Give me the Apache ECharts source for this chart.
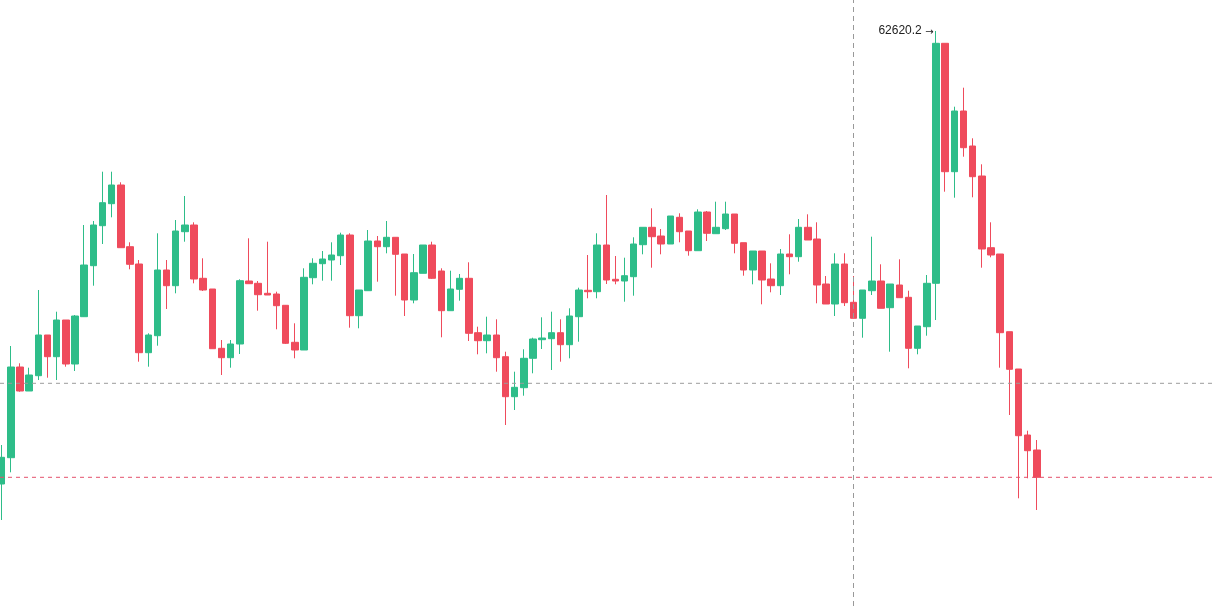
<!DOCTYPE html>
<html>
<head>
<meta charset="utf-8">
<style>html,body{margin:0;padding:0;background:#fff;}#c{width:1215px;height:606px;}</style>
<script src="https://cdn.jsdelivr.net/npm/echarts@6/dist/echarts.min.js"></script>
</head>
<body>
<div id="c"></div>
<script>
const open = [58090,58353,59260,59020,59173,59580,59363,59730,59290,59763,
60273,60673,60893,61080,60463,60290,59403,59573,60230,60073,
60613,60680,60147,60040,59447,59353,59490,60120,60097,59997,
59990,59877,59507,59430,60153,60293,60330,60373,60580,59773,
60023,60520,60463,60557,60390,59930,60197,60480,60220,59823,
60037,60147,59603,59523,59580,59363,58963,59053,59347,59533,
59543,59603,59483,59763,60027,60013,60480,60137,60120,60163,
60483,60657,60570,60490,60757,60620,60423,60810,60593,60643,
60790,60503,60230,60420,60140,60073,60390,60363,60657,60540,
60090,59890,60290,59907,59747,60023,60120,59853,60080,59957,
59447,59663,60097,62497,61213,61820,61470,61170,60453,60390,
59613,59240,58580,58430];
const close = [58357,59260,59020,59180,59580,59363,59730,59290,59770,60280,
60680,60903,61080,60453,60287,59403,59580,60230,60073,60620,
60680,60140,60030,59443,59353,59490,60123,60093,59983,59980,
59873,59497,59430,60157,60297,60340,60380,60580,59773,60030,
60520,60463,60557,60387,59930,60203,60480,60147,59823,60040,
60147,59597,59523,59580,59353,58963,59057,59347,59540,59550,
59603,59483,59770,60030,60013,60480,60130,60120,60173,60490,
60657,60563,60490,60770,60613,60423,60810,60597,60657,60790,
60497,60230,60420,60130,60073,60390,60363,60657,60530,60080,
59890,60290,59903,59747,60030,60120,59847,60090,59953,59447,
59670,60097,62497,61213,61820,61453,61163,60440,60380,59603,
59237,58573,58423,58157];
const low = [57730,58207,59013,59020,59130,59153,59130,59263,59220,59760,
60073,60490,60757,60453,60237,59313,59263,59473,59840,59997,
60513,60097,60020,59443,59180,59253,59390,60093,59823,59980,
59637,59490,59347,59430,60087,60123,60123,60280,59653,59647,
60023,60113,60397,59973,59770,59897,60197,60140,59557,59823,
59923,59520,59387,59397,59213,58680,58830,58973,59197,59440,
59230,59313,59347,59513,59947,59947,60090,60087,59913,59973,
60387,60253,60387,60490,60507,60373,60423,60520,60593,60630,
60397,60173,60087,59887,60007,59980,60187,60313,60530,59897,
59890,59770,59870,59747,59553,59980,59847,59413,59953,59247,
59387,59573,59730,61013,60953,61363,60957,60253,60357,59253,
58780,57947,58147,57830];
const high = [58480,59470,59297,59253,60030,59580,59813,59730,59780,60680,
60720,61213,61213,61107,60507,60330,59597,60597,60330,60730,
60970,60707,60347,60040,59530,59530,60137,60547,60120,60513,
60013,59880,59697,60247,60347,60420,60507,60603,60597,60030,
60630,60570,60720,60557,60390,60390,60480,60513,60247,60223,
60190,60307,59663,59763,59737,59413,59213,59437,59553,59757,
59813,59737,59847,60053,60380,60597,60980,60370,60353,60557,
60657,60847,60640,60770,60797,60620,60837,60820,60913,60913,
60790,60503,60420,60420,60297,60440,60587,60740,60787,60707,
60170,60397,60397,60170,60030,60563,60287,60090,60337,60023,
59670,60180,62620.2,62497,61863,62053,61547,61287,60707,60390,
59613,59240,58623,58530];
const slotCount = 133;
const categories = Array.from({length: slotCount}, (_, i) => String(i));
const maxIndex = 102;
const maxValue = 62620.2;
const grayLineValue = 59097;
const lastClose = 58157;
const crosshairIndex = 93;

const kData = open.map((o, i) => [o, close[i], low[i], high[i]]);
const UP = '#2EBD89', DOWN = '#EF4B5C';
const Y_MIN = 56870, Y_MAX = 62930;

function hLine(value, color) {
  return {
    type: 'line', xAxisIndex: 1, yAxisIndex: 1, silent: true,
    showSymbol: false, symbol: 'none',
    lineStyle: {color: color, type: [4, 4], width: 1},
    data: [[0, value], [1, value]]
  };
}

const chart = echarts.init(document.getElementById('c'), null, {renderer: 'canvas'});
chart.setOption({
  animation: false,
  backgroundColor: '#ffffff',
  grid: [
    {left: 1.7, right: 4.2, top: 0, bottom: 0},
    {left: 0, right: 0, top: 0, bottom: 0}
  ],
  xAxis: [
    {type: 'category', data: categories, boundaryGap: false, show: false, gridIndex: 0},
    {type: 'value', min: 0, max: 1, show: false, gridIndex: 1}
  ],
  yAxis: [
    {type: 'value', min: Y_MIN, max: Y_MAX, show: false, gridIndex: 0},
    {type: 'value', min: Y_MIN, max: Y_MAX, show: false, gridIndex: 1}
  ],
  series: [
    hLine(grayLineValue, '#9c9c9c'),
    hLine(lastClose, '#E4506C'),
    {
    type: 'candlestick',
    data: kData,
    clip: false,
    barWidth: 7,
    itemStyle: {color: UP, color0: DOWN, borderColor: UP, borderColor0: DOWN, borderWidth: 1},
    markPoint: {
      symbol: 'circle', symbolSize: 1,
      itemStyle: {color: 'rgba(0,0,0,0)'},
      label: {
        show: true, position: 'left', distance: 0, offset: [-2, 0],
        formatter: '{a|{c}} {b|\u2192}',
        rich: {
          a: {color: '#222', fontSize: 12, fontFamily: 'Liberation Sans, Arial, sans-serif'},
          b: {color: '#222', fontSize: 10, fontFamily: 'DejaVu Sans, sans-serif', padding: [3, 0, 0, 0]}
        }
      },
      data: [{coord: [maxIndex, maxValue], value: maxValue}]
    },
    markLine: {
      silent: true, symbol: ['none', 'none'], label: {show: false},
      lineStyle: {color: '#999999', type: [5, 4], width: 1, opacity: 1},
      data: [{xAxis: crosshairIndex}]
    }
  }]
});
</script>
</body>
</html>
